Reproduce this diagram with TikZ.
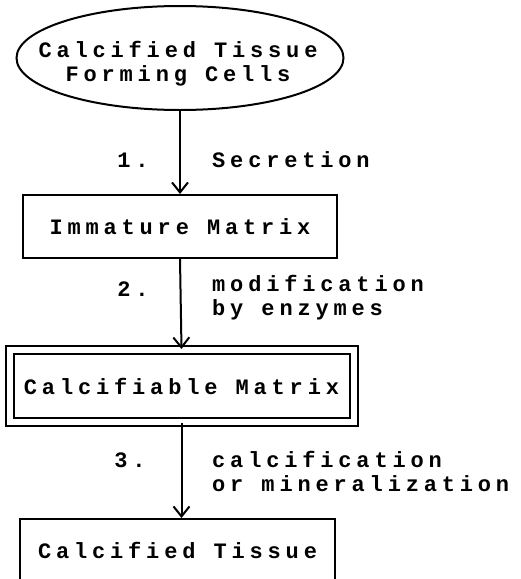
\documentclass[tikz,border=0pt]{standalone}
\usepackage{fontspec}
\newfontfamily\diagfont{Liberation Mono}[UprightFont=* Bold,BoldFont=* Bold,LetterSpace=22]
\usetikzlibrary{arrows.meta,shapes.geometric}
\begin{document}
\begin{tikzpicture}[x=1pt,y=-1pt,
  txt/.style={font=\diagfont\fontsize{22}{24}\selectfont},
  box/.style={txt,draw,line width=2pt,rectangle,inner sep=0pt,align=center},
  lbl/.style={txt,inner sep=0pt,align=left},
  arr/.style={line width=2pt,-{Straight Barb[length=10pt,width=16pt,line width=2pt]}}
]
\useasboundingbox (0,0) rectangle (521,579);
\clip (0,0) rectangle (521,579);
\node[draw,ellipse,line width=2pt,minimum width=327pt,minimum height=104pt,inner sep=0pt] (cells) at (180,58) {};
\node[txt,align=center] (cellstxt) at (178,64) {Calcified Tissue\\Forming Cells};
\node[box,minimum width=314pt,minimum height=63pt] (imm) at (180,226.5) {Immature Matrix};
\node[box,minimum width=344pt,minimum height=72pt,double,double distance=6pt] (calc) at (181.5,386) {Calcifiable Matrix};
\node[box,minimum width=315pt,minimum height=120pt,anchor=north] (tis) at (177.5,518) {};
\node[txt] (tistxt) at (177.5,550) {Calcified Tissue};
\draw[arr] (cells.south) -- (imm.north);
\draw[arr] (imm.south) -- (calc.north);
\draw[arr] (calc.south) -- (calc.south |- tis.north);
\node[lbl] (n1) at (133,160) {1.};
\node[lbl,anchor=west] (s1) at (212,160) {Secretion};
\node[lbl] (n2) at (133,289) {2.};
\node[lbl,anchor=west] (s2) at (212,298) {modification\\by enzymes};
\node[lbl] (n3) at (130,460) {3.};
\node[lbl,anchor=west] (s3) at (212,471) {calcification\\or mineralization};
\end{tikzpicture}
\end{document}
